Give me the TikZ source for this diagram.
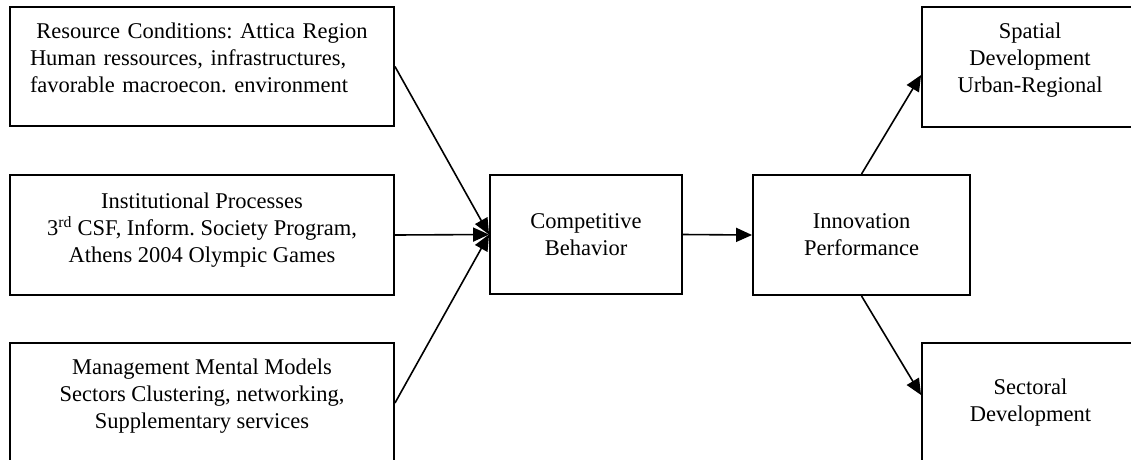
\documentclass[tikz,border=0pt]{standalone}
\usepackage{fontspec}
\setmainfont{Liberation Serif}
\usetikzlibrary{arrows.meta,calc}
\frenchspacing
\begin{document}
\begin{tikzpicture}[x=1pt,y=-1pt,
  box/.style={draw, line width=1.9pt, inner sep=0pt, align=center,
    font=\fontsize{22.5}{27}\selectfont\frenchspacing},
  txt/.style={inner sep=0pt, anchor=north, font=\fontsize{22.5}{27}\selectfont\frenchspacing},
  arr/.style={line width=1.6pt, -{Triangle[length=16pt,width=14pt]}}]
\clip (0,0) rectangle (1131,459);
\fill[white] (0,0) rectangle (1131,459);
% boxes
\node[box, minimum width=384pt, minimum height=119pt] (r1) at (202,66.5) {};
\node[box, minimum width=384pt, minimum height=120pt] (r2) at (202,235) {};
\node[box, minimum width=384pt, minimum height=120pt] (r3) at (202,403) {};
\node[box, minimum width=192pt, minimum height=119pt] (cb) at (586,234.5) {Competitive\\Behavior};
\node[box, minimum width=217pt, minimum height=120pt] (ip) at (861.5,235) {Innovation\\Performance};
\node[box, minimum width=217pt, minimum height=120pt] (sp) at (1030.5,67) {};
\node[box, minimum width=217pt, minimum height=120pt] (sd) at (1030.5,403) {Sectoral\\Development};
% top-aligned texts
\node[txt, text width=344pt, align=left] (r1t) at (202,19.1)
  {\makebox[344pt][c]{\strut Resource Conditions: Attica Region}\\
   \makebox[344pt][s]{\strut Human ressources, infrastructures,}\\
   \strut favorable macroecon. environment};
\node[txt, align=center] (r2t) at (202,189.1)
  {\strut Institutional Processes\\
   \strut 3\textsuperscript{rd} CSF, Inform. Society Program,\\
   \strut Athens 2004 Olympic Games};
\node[txt, align=center] (r3t) at (202,355.1)
  {\strut Management Mental Models\\
   \strut Sectors Clustering, networking,\\
   \strut Supplementary services};
\node[txt, align=center] (spt) at (1030,19.1)
  {\strut Spatial\\ \strut Development\\ \strut Urban-Regional};
% connectors
\draw[arr] (r1.east) -- (cb.west);
\draw[arr] (r2.east) -- (cb.west);
\draw[arr] (r3.east) -- (cb.west);
\draw[arr] (cb.east) -- (ip.west);
\draw[arr] (ip.north) -- ($(sp.west)+(0,8)$);
\draw[arr] (ip.south) -- ($(sd.west)+(0,-8)$);
\end{tikzpicture}
\end{document}
